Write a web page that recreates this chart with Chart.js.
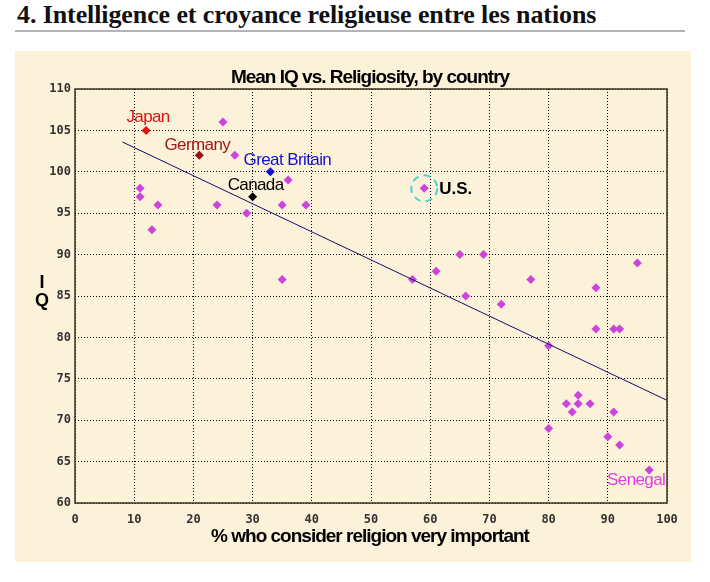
<!DOCTYPE html>
<html>
<head>
<meta charset="utf-8">
<script src="https://cdn.jsdelivr.net/npm/chart.js@4/dist/chart.umd.min.js"></script>
<style>
  html, body { margin: 0; padding: 0; background: #fff; width: 710px; height: 582px; overflow: hidden; }
  #head {
    position: absolute; left: 17px; top: 0px;
    font: bold 26px "Liberation Serif", serif; color: #111;
    letter-spacing: -0.1px;
  }
  #rule { position: absolute; left: 15px; top: 30px; width: 670px; height: 2px; background: #b4b4b8; }
  #panel { position: absolute; left: 15px; top: 51px; width: 676px; height: 511px; background: #fcf1d9; }
</style>
</head>
<body>
<div id="head">4. Intelligence et croyance religieuse entre les nations</div>
<div id="rule"></div>
<div id="panel"><canvas id="c" width="676" height="511"></canvas></div>
<script>
// named countries (shown with a label)
const labeledNames = ['Japan', 'Germany', 'Great Britain', 'Canada', 'U.S.', 'Senegal'];
const labeledX = [12, 21, 33, 30, 59, 97];
const labeledY = [105, 102, 100, 97, 98, 64];
const labeledColors = ['#e01010', '#9a1010', '#1010d0', '#000000', '#cc44dd', '#cc44dd'];

// other countries
const otherX = [25, 27, 36, 11, 11, 14, 13, 24, 29, 35, 39, 35,
                61, 57, 65, 69, 66, 72, 77, 80, 95, 88, 88, 91, 92, 85, 83, 85, 87, 84, 91, 80, 90, 92];
const otherY = [106, 102, 99, 98, 97, 96, 93, 96, 95, 96, 96, 87,
                88, 87, 90, 90, 85, 84, 87, 79, 89, 86, 81, 81, 81, 73, 72, 72, 72, 71, 71, 69, 68, 67];

// trend line ends
const trendX = [8, 100];
const trendY = [103.6, 72.4];

const xTicks = [0, 10, 20, 30, 40, 50, 60, 70, 80, 90, 100];
const yTicks = [60, 65, 70, 75, 80, 85, 90, 95, 100, 105, 110];

const zip = (xs, ys) => xs.map((x, i) => ({ x: x, y: ys[i] }));

// label placement per named country: [dx, dy, align, font, color]
const labelStyle = {
  'Japan':         [2, -13, 'center', '17px "Liberation Sans"', '#e01010'],
  'Germany':       [-2, -10, 'center', '17px "Liberation Sans"', '#a01818'],
  'Great Britain': [17, -11, 'center', '17px "Liberation Sans"', '#1010d0'],
  'Canada':        [3, -11, 'center', '17px "Liberation Sans"', '#000000'],
  'U.S.':          [15, 1, 'left', 'bold 17px "Liberation Sans"', '#000000'],
  'Senegal':       [16, 10, 'right', '17px "Liberation Sans"', '#e040e0']
};

const decor = {
  id: 'decor',
  afterDraw(chart) {
    const ctx = chart.ctx;
    const a = chart.chartArea;
    const xs = chart.scales.x, ys = chart.scales.y;
    ctx.save();
    // frame
    ctx.strokeStyle = '#3a3020';
    ctx.lineWidth = 1.5;
    ctx.strokeRect(a.left, a.top, a.right - a.left, a.bottom - a.top);

    // chart title
    ctx.fillStyle = '#000';
    ctx.textAlign = 'center';
    ctx.textBaseline = 'middle';
    ctx.font = 'bold 19px "Liberation Sans"';
    ctx.letterSpacing = '-1px';
    ctx.fillText('Mean IQ vs. Religiosity, by country', 355, 27);
    // axis titles
    ctx.font = 'bold 19px "Liberation Sans"';
    ctx.fillText('% who consider religion very important', 355, 486);
    ctx.letterSpacing = '0px';
    ctx.font = 'bold 18px "Liberation Sans"';
    ctx.fillText('I', 27, 232);
    ctx.fillText('Q', 27, 250);

    // country labels
    labeledNames.forEach((n, i) => {
      const s = labelStyle[n];
      const px = xs.getPixelForValue(labeledX[i]);
      const py = ys.getPixelForValue(labeledY[i]);
      ctx.font = s[3];
      ctx.fillStyle = s[4];
      ctx.textAlign = s[2];
      ctx.letterSpacing = n === 'U.S.' ? '0px' : '-0.6px';
      ctx.fillText(n, px + s[0], py + s[1]);
      if (n === 'U.S.') {
        ctx.strokeStyle = '#48d4d8';
        ctx.lineWidth = 2;
        ctx.setLineDash([7, 5]);
        ctx.beginPath();
        ctx.arc(px, py, 13, 0, Math.PI * 2);
        ctx.stroke();
        ctx.setLineDash([]);
      }
    });
    ctx.restore();
  }
};

new Chart(document.getElementById('c'), {
  type: 'scatter',
  data: {
    datasets: [
      {
        type: 'line',
        data: zip(trendX, trendY),
        borderColor: '#10106a',
        borderWidth: 1,
        pointRadius: 0,
        fill: false
      },
      {
        data: zip(otherX, otherY),
        pointStyle: 'rectRot',
        pointRadius: 4.5,
        backgroundColor: '#cc44dd',
        borderWidth: 0
      },
      {
        data: zip(labeledX, labeledY),
        pointStyle: 'rectRot',
        pointRadius: 4.5,
        backgroundColor: labeledColors,
        borderWidth: 0
      }
    ]
  },
  options: {
    responsive: false,
    animation: false,
    devicePixelRatio: 1,
    layout: { padding: { top: 38, right: 24, left: 0, bottom: 0 } },
    plugins: { legend: { display: false }, tooltip: { enabled: false }, title: { display: false } },
    scales: {
      x: {
        type: 'linear', min: 0, max: 100,
        afterFit(s) { s.height = 59; },
        afterBuildTicks(s) { s.ticks = xTicks.map(v => ({ value: v })); },
        grid: { color: '#000', lineWidth: 1, drawTicks: false },
        border: { display: false, dash: [1, 2] },
        ticks: { padding: 10, color: '#333', font: { family: '"DejaVu Sans Mono"', size: 12, weight: 'bold' } }
      },
      y: {
        type: 'linear', min: 60, max: 110,
        afterFit(s) { s.width = 60; },
        afterBuildTicks(s) { s.ticks = yTicks.map(v => ({ value: v })); },
        grid: { color: '#000', lineWidth: 1, drawTicks: false },
        border: { display: false, dash: [1, 2] },
        ticks: { padding: 4, color: '#333', font: { family: '"DejaVu Sans Mono"', size: 12, weight: 'bold' } }
      }
    }
  },
  plugins: [decor]
});
</script>
</body>
</html>
